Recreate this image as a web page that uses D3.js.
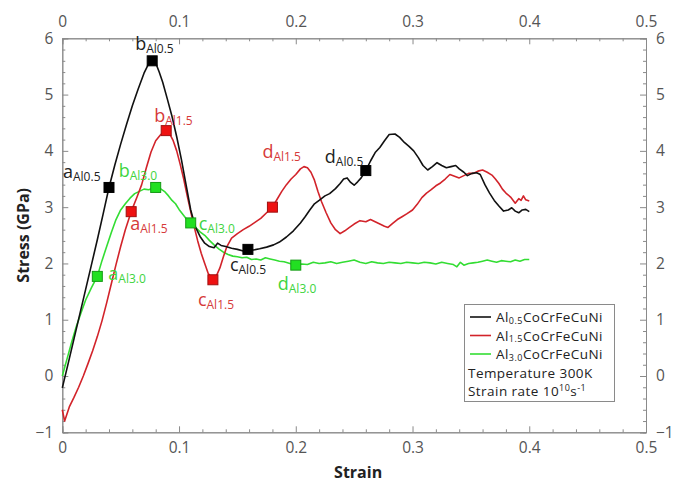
<!DOCTYPE html>
<html>
<head>
<meta charset="utf-8">
<script src="https://cdn.jsdelivr.net/npm/d3@7"></script>
<style>
  html, body { margin: 0; padding: 0; background: #fff; }
  svg { display: block; font-family: "Open Sans", "Noto Sans", sans-serif; }
</style>
</head>
<body>
<svg id="chart" width="683" height="482"></svg>
<script>
// ---- Stress–strain curves (strain, stress in GPa) ----
const strainAl05 = [0, 0.005, 0.01, 0.015, 0.02, 0.025, 0.03, 0.035, 0.04, 0.045, 0.05, 0.055, 0.06, 0.065, 0.07, 0.074, 0.077, 0.08, 0.083, 0.086, 0.09, 0.094, 0.098, 0.102, 0.106, 0.11, 0.114, 0.118, 0.122, 0.126, 0.13, 0.133, 0.136, 0.14, 0.145, 0.15, 0.155, 0.159, 0.164, 0.169, 0.175, 0.181, 0.186, 0.192, 0.198, 0.204, 0.208, 0.212, 0.216, 0.22, 0.225, 0.229, 0.234, 0.238, 0.241, 0.244, 0.247, 0.25, 0.253, 0.256, 0.26, 0.264, 0.268, 0.272, 0.276, 0.28, 0.285, 0.289, 0.293, 0.297, 0.301, 0.305, 0.309, 0.313, 0.317, 0.321, 0.325, 0.329, 0.333, 0.337, 0.34, 0.344, 0.347, 0.351, 0.355, 0.358, 0.362, 0.366, 0.37, 0.374, 0.378, 0.382, 0.385, 0.388, 0.391, 0.394, 0.397, 0.4];
const stressAl05 = [-0.21, 0.22, 0.66, 1.1, 1.54, 1.98, 2.42, 2.88, 3.35, 3.75, 4.12, 4.47, 4.8, 5.1, 5.38, 5.55, 5.6, 5.56, 5.4, 5.22, 4.92, 4.61, 4.25, 3.85, 3.4, 2.95, 2.65, 2.48, 2.36, 2.3, 2.28, 2.36, 2.32, 2.3, 2.27, 2.25, 2.22, 2.25, 2.24, 2.26, 2.29, 2.33, 2.38, 2.47, 2.58, 2.72, 2.83, 2.95, 3.06, 3.12, 3.2, 3.24, 3.33, 3.42, 3.5, 3.52, 3.44, 3.39, 3.45, 3.52, 3.65, 3.82, 3.97, 4.06, 4.18, 4.29, 4.3, 4.24, 4.15, 4.08, 4.0, 3.88, 3.74, 3.66, 3.72, 3.79, 3.74, 3.7, 3.72, 3.74, 3.68, 3.62, 3.56, 3.6, 3.61, 3.58, 3.4, 3.25, 3.12, 3.02, 2.93, 2.95, 2.99, 2.93, 2.9, 2.95, 2.96, 2.92];

const strainAl15 = [0, 0.002, 0.006, 0.01, 0.014, 0.018, 0.022, 0.026, 0.03, 0.034, 0.038, 0.042, 0.046, 0.05, 0.054, 0.059, 0.064, 0.068, 0.072, 0.076, 0.08, 0.084, 0.087, 0.089, 0.092, 0.095, 0.098, 0.101, 0.104, 0.107, 0.11, 0.113, 0.116, 0.119, 0.122, 0.125, 0.129, 0.132, 0.135, 0.138, 0.141, 0.145, 0.15, 0.155, 0.16, 0.165, 0.17, 0.175, 0.18, 0.184, 0.188, 0.192, 0.196, 0.2, 0.204, 0.207, 0.21, 0.213, 0.216, 0.219, 0.222, 0.226, 0.23, 0.234, 0.238, 0.242, 0.246, 0.25, 0.255, 0.26, 0.264, 0.268, 0.272, 0.276, 0.279, 0.283, 0.287, 0.291, 0.295, 0.3, 0.304, 0.308, 0.312, 0.316, 0.32, 0.324, 0.328, 0.332, 0.336, 0.34, 0.344, 0.348, 0.352, 0.356, 0.36, 0.364, 0.368, 0.371, 0.374, 0.377, 0.38, 0.384, 0.388, 0.391, 0.393, 0.395, 0.397, 0.4];
const stressAl15 = [-0.6, -0.8, -0.55, -0.38, -0.2, 0.0, 0.22, 0.45, 0.7, 0.98, 1.3, 1.64, 1.98, 2.3, 2.6, 2.92, 3.18, 3.4, 3.7, 3.98, 4.18, 4.28, 4.34, 4.36, 4.3, 4.18, 4.0, 3.76, 3.5, 3.2, 2.92, 2.65, 2.4, 2.18, 2.0, 1.82, 1.72, 1.78, 1.92, 2.12, 2.3, 2.45, 2.53, 2.6, 2.66, 2.73, 2.8, 2.9, 3.0, 3.14, 3.28, 3.4, 3.5, 3.58, 3.68, 3.72, 3.7, 3.62, 3.48, 3.28, 3.1, 2.9, 2.72, 2.6, 2.53, 2.58, 2.64, 2.7, 2.76, 2.74, 2.78, 2.74, 2.7, 2.66, 2.64, 2.71, 2.78, 2.83, 2.88, 2.95, 3.05, 3.17, 3.25, 3.31, 3.38, 3.43, 3.5, 3.58, 3.55, 3.52, 3.56, 3.6, 3.6, 3.64, 3.66, 3.62, 3.57, 3.5, 3.42, 3.32, 3.25, 3.18, 3.07, 3.15, 3.12, 3.2, 3.13, 3.11];

const strainAl30 = [0, 0.004, 0.008, 0.012, 0.016, 0.02, 0.025, 0.03, 0.034, 0.038, 0.042, 0.046, 0.05, 0.054, 0.058, 0.062, 0.066, 0.07, 0.074, 0.078, 0.08, 0.084, 0.088, 0.091, 0.094, 0.097, 0.1, 0.103, 0.106, 0.11, 0.114, 0.118, 0.122, 0.126, 0.13, 0.134, 0.138, 0.142, 0.146, 0.15, 0.154, 0.158, 0.162, 0.166, 0.17, 0.174, 0.178, 0.182, 0.186, 0.19, 0.195, 0.2, 0.205, 0.21, 0.215, 0.22, 0.225, 0.23, 0.235, 0.24, 0.245, 0.25, 0.255, 0.26, 0.265, 0.27, 0.275, 0.28, 0.285, 0.29, 0.295, 0.3, 0.305, 0.31, 0.315, 0.32, 0.325, 0.33, 0.335, 0.338, 0.341, 0.344, 0.348, 0.352, 0.356, 0.36, 0.364, 0.368, 0.372, 0.376, 0.38, 0.384, 0.388, 0.392, 0.396, 0.4];
const stressAl30 = [0.0, 0.3, 0.6, 0.88, 1.12, 1.35, 1.57, 1.77, 2.05, 2.3, 2.55, 2.78, 2.95, 3.06, 3.16, 3.24, 3.28, 3.32, 3.31, 3.34, 3.35, 3.33, 3.27, 3.2, 3.12, 3.06, 2.96, 2.88, 2.8, 2.72, 2.64, 2.56, 2.5, 2.41, 2.33, 2.26, 2.2, 2.16, 2.13, 2.12, 2.1, 2.11, 2.07, 2.08, 2.06, 2.1, 2.08, 2.06, 2.04, 2.03, 2.0, 1.97, 1.99, 1.98, 2.02, 2.0, 2.01, 2.03, 2.0, 2.02, 2.04, 2.06, 2.02, 2.0, 2.03, 2.01, 2.0, 2.02, 2.01, 2.0, 2.02, 2.01, 2.0, 2.02, 2.01, 1.99, 2.02, 2.0, 1.98, 1.94, 2.02, 1.97, 2.0, 2.01, 2.02, 2.04, 2.06, 2.04, 2.02, 2.05, 2.04, 2.03, 2.06, 2.04, 2.07, 2.07];

// ---- Marked states a–d on each curve ----
const pointLetters = ["a", "b", "c", "d"];
const pointStrainAl05 = [0.04, 0.077, 0.159, 0.26];
const pointStressAl05 = [3.35, 5.6, 2.25, 3.65];
const pointStrainAl15 = [0.059, 0.089, 0.129, 0.18];
const pointStressAl15 = [2.92, 4.36, 1.71, 3.0];
const pointStrainAl30 = [0.03, 0.08, 0.11, 0.2];
const pointStressAl30 = [1.77, 3.35, 2.72, 1.97];

// ---- Series names and tick labels ----
const seriesSubs = ["0.5", "1.5", "3.0"];
const labelSubs = ["Al0.5", "Al1.5", "Al3.0"];
const xTicks = [0, 0.1, 0.2, 0.3, 0.4, 0.5];
const yTicks = [-1, 0, 1, 2, 3, 4, 5, 6];

// ---- Appearance ----
const lineColors = ["#111111", "#d2232a", "#33dd33"];
const markerFill = ["#000000", "#ee1111", "#22e022"];
const markerStroke = ["#000000", "#a01010", "#159a15"];
const labelColors = ["#222222", "#d63a3a", "#3ed43e"];
// label anchor offsets (px) from each marker, per series, per letter
const labelOffsets = [
  [[-46, -9], [-17, -11], [-18, 22], [-41, -8]],
  [[-1, 18], [-12, -9], [-15, 26], [-10, -49]],
  [[11, 4], [-37, -10], [8, 7], [-18, 25]]
];

const svg = d3.select("#chart");
const plotLeft = 62.3, plotRight = 646, plotTop = 38.3, plotBottom = 432.3;

const x = d3.scaleLinear().domain([0, 0.5]).range([plotLeft, plotRight]);
const y = d3.scaleLinear().domain([-1, 6]).range([plotBottom, plotTop]);

const axisColor = "#8a8a8a";
const tickText = "#555555";

function styleAxis(g) {
  g.selectAll("path.domain").attr("stroke", axisColor).attr("stroke-width", 1);
  g.selectAll(".tick line").attr("stroke", axisColor).attr("stroke-width", 1);
  g.selectAll(".tick text").attr("fill", tickText).style("font-size", "15.5px")
    .style("font-family", "'Open Sans', sans-serif");
}

const xMinor = d3.range(0, 0.5001, 0.02).filter(v => Math.abs(v * 10 - Math.round(v * 10)) > 1e-6);
const yMinor = d3.range(-1, 6.0001, 0.2).filter(v => Math.abs(v - Math.round(v)) > 1e-6);
const fmtX = d => (d === 0 ? "0" : d3.format(".1f")(d));
const fmtY = d3.format("d");

// minor ticks
svg.append("g").attr("transform", `translate(0,${plotBottom})`)
  .call(d3.axisBottom(x).tickValues(xMinor).tickSize(-3).tickFormat(""))
  .call(styleAxis);
svg.append("g").attr("transform", `translate(0,${plotTop})`)
  .call(d3.axisTop(x).tickValues(xMinor).tickSize(-3).tickFormat(""))
  .call(styleAxis);
svg.append("g").attr("transform", `translate(${plotLeft},0)`)
  .call(d3.axisLeft(y).tickValues(yMinor).tickSize(-3).tickFormat(""))
  .call(styleAxis);
svg.append("g").attr("transform", `translate(${plotRight},0)`)
  .call(d3.axisRight(y).tickValues(yMinor).tickSize(-3).tickFormat(""))
  .call(styleAxis);

// major ticks with labels
svg.append("g").attr("transform", `translate(0,${plotBottom})`)
  .call(d3.axisBottom(x).tickValues(xTicks).tickSize(-6).tickPadding(10).tickFormat(fmtX))
  .call(styleAxis);
svg.append("g").attr("transform", `translate(0,${plotTop})`)
  .call(d3.axisTop(x).tickValues(xTicks).tickSize(-6).tickPadding(11).tickFormat(fmtX))
  .call(styleAxis);
svg.append("g").attr("transform", `translate(${plotLeft},0)`)
  .call(d3.axisLeft(y).tickValues(yTicks).tickSize(-6).tickPadding(9).tickFormat(fmtY))
  .call(styleAxis);
svg.append("g").attr("transform", `translate(${plotRight},0)`)
  .call(d3.axisRight(y).tickValues(yTicks).tickSize(-6).tickPadding(10).tickFormat(fmtY))
  .call(styleAxis);

// axis titles
svg.append("text")
  .attr("x", (plotLeft + plotRight) / 2 + 4).attr("y", 478)
  .attr("text-anchor", "middle")
  .style("font-size", "16px").style("font-weight", "bold").attr("fill", "#222")
  .text("Strain");
svg.append("text")
  .attr("transform", `translate(29,${(plotTop + plotBottom) / 2}) rotate(-90)`)
  .attr("text-anchor", "middle")
  .style("font-size", "16px").style("font-weight", "bold").attr("fill", "#222")
  .text("Stress (GPa)");

// curves
const curves = [
  [strainAl05, stressAl05],
  [strainAl15, stressAl15],
  [strainAl30, stressAl30]
];
const line = d3.line().x(d => x(d[0])).y(d => y(d[1]));
// draw in reverse so black sits on top
[2, 1, 0].forEach(i => {
  const pts = d3.zip(curves[i][0], curves[i][1]);
  svg.append("path")
    .datum(pts)
    .attr("fill", "none")
    .attr("stroke", lineColors[i])
    .attr("stroke-width", 1.6)
    .attr("stroke-linejoin", "round")
    .attr("d", line);
});

// markers and labels
const markerSets = [
  [pointStrainAl05, pointStressAl05],
  [pointStrainAl15, pointStressAl15],
  [pointStrainAl30, pointStressAl30]
];
const ms = 10;
markerSets.forEach((set, i) => {
  set[0].forEach((sx, j) => {
    const cx = x(sx), cy = y(set[1][j]);
    svg.append("rect")
      .attr("x", cx - ms / 2).attr("y", cy - ms / 2)
      .attr("width", ms).attr("height", ms)
      .attr("fill", markerFill[i])
      .attr("stroke", markerStroke[i]).attr("stroke-width", 1);
    const off = labelOffsets[i][j];
    const t = svg.append("text")
      .attr("x", cx + off[0]).attr("y", cy + off[1])
      .attr("fill", labelColors[i]);
    t.append("tspan").style("font-size", "18px").text(pointLetters[j]);
    t.append("tspan").attr("dy", 3).style("font-size", "12px").text(labelSubs[i]);
  });
});

// legend
const lg = svg.append("g");
lg.append("rect")
  .attr("x", 464.5).attr("y", 304.5).attr("width", 150).attr("height", 97)
  .attr("fill", "#fff").attr("stroke", "#8a8a8a").attr("stroke-width", 1);
const rowY = [317, 335.5, 354, 372.5, 391];
const legendFont = "13.5px";
const legendSpacing = "0.45px";
seriesSubs.forEach((s, i) => {
  lg.append("line")
    .attr("x1", 470).attr("x2", 491)
    .attr("y1", rowY[i]).attr("y2", rowY[i])
    .attr("stroke", lineColors[i]).attr("stroke-width", 1.6);
  const t = lg.append("text").attr("x", 496).attr("y", rowY[i] + 5)
    .attr("fill", "#222").style("font-size", legendFont)
    .style("letter-spacing", legendSpacing);
  t.append("tspan").text("Al");
  t.append("tspan").attr("dy", 1.5).style("font-size", "9px").text(s);
  t.append("tspan").attr("dy", -1.5).text("CoCrFeCuNi");
});
lg.append("text").attr("x", 468).attr("y", rowY[3] + 5)
  .attr("fill", "#222").style("font-size", legendFont)
  .style("letter-spacing", legendSpacing).text("Temperature 300K");
const sr = lg.append("text").attr("x", 468).attr("y", rowY[4] + 5)
  .attr("fill", "#222").style("font-size", legendFont)
  .style("letter-spacing", legendSpacing);
sr.append("tspan").text("Strain rate 10");
sr.append("tspan").attr("dy", -5).style("font-size", "9px").text("10");
sr.append("tspan").attr("dy", 5).text("s");
sr.append("tspan").attr("dy", -5).style("font-size", "9px").text("-1");
</script>
</body>
</html>
